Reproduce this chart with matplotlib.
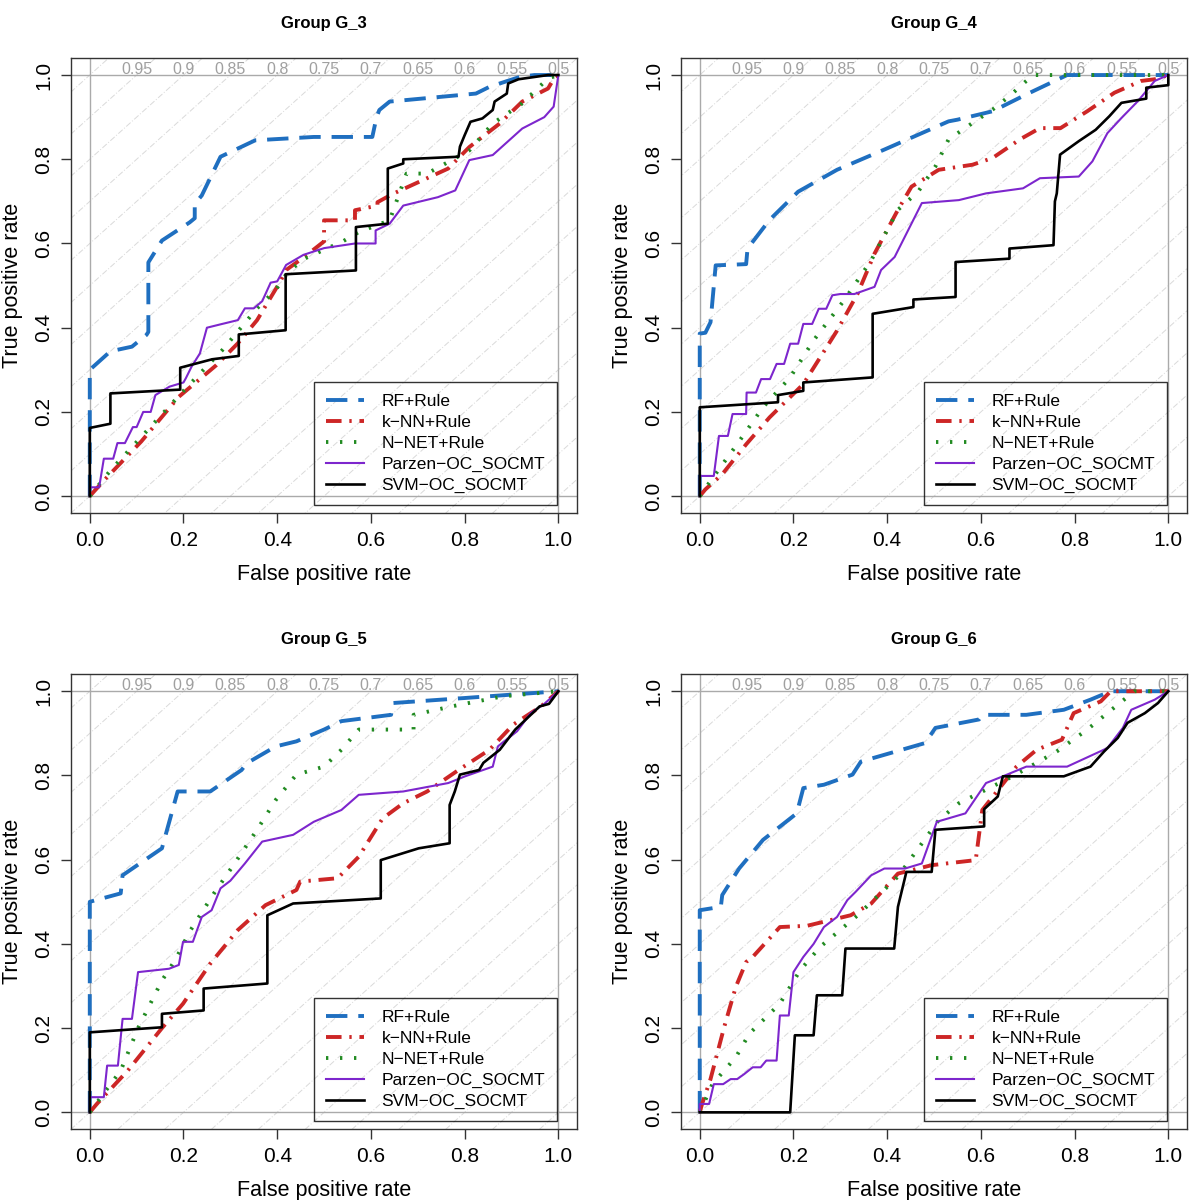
import matplotlib.pyplot as plt
import numpy as np

plt.rcParams['font.family'] = ['Liberation Sans', 'DejaVu Sans']

titles = ['Group G_3', 'Group G_4', 'Group G_5', 'Group G_6']
methods = ['RF+Rule', 'k\u2212NN+Rule', 'N\u2212NET+Rule',
           'Parzen\u2212OC_SOCMT', 'SVM\u2212OC_SOCMT']
iso_labels = [0.95, 0.9, 0.85, 0.8, 0.75, 0.7, 0.65, 0.6, 0.55, 0.5]

# (FPR, TPR) points
g3_rf = [(0, 0), (0, 0.30), (0.044, 0.344), (0.09, 0.355), (0.121, 0.383), (0.125, 0.39),
         (0.125, 0.555), (0.154, 0.607), (0.213, 0.65), (0.224, 0.66), (0.224, 0.694),
         (0.239, 0.714), (0.279, 0.806), (0.353, 0.845), (0.478, 0.853), (0.603, 0.853),
         (0.612, 0.9), (0.618, 0.917), (0.64, 0.937), (0.824, 0.956), (0.853, 0.972),
         (0.919, 0.996), (0.949, 1.0), (1, 1)]
g3_knn = [(0, 0), (0.03, 0.037), (0.11, 0.13), (0.19, 0.236), (0.27, 0.311), (0.316, 0.363),
          (0.357, 0.418), (0.404, 0.505), (0.419, 0.537), (0.46, 0.57), (0.5, 0.605),
          (0.5, 0.655), (0.566, 0.655), (0.566, 0.679), (0.614, 0.69), (0.614, 0.698),
          (0.647, 0.718), (0.765, 0.778), (0.81, 0.829), (0.875, 0.885), (0.923, 0.937),
          (0.978, 0.968), (0.993, 0.996), (1, 1)]
g3_nnet = [(0, 0), (0.044, 0.061), (0.107, 0.137), (0.2, 0.25), (0.283, 0.347), (0.357, 0.446),
           (0.397, 0.49), (0.423, 0.533), (0.46, 0.565), (0.54, 0.605), (0.574, 0.627),
           (0.64, 0.655), (0.676, 0.766), (0.72, 0.766), (0.81, 0.821), (0.86, 0.885),
           (0.897, 0.913), (0.919, 0.929), (0.978, 0.992), (1, 1)]
g3_parzen = [(0, 0), (0, 0.021), (0.02, 0.021), (0.03, 0.089), (0.05, 0.089), (0.059, 0.126),
             (0.075, 0.126), (0.092, 0.164), (0.1, 0.164), (0.114, 0.2), (0.13, 0.2),
             (0.14, 0.24), (0.17, 0.26), (0.2, 0.27), (0.205, 0.28), (0.217, 0.307),
             (0.235, 0.339), (0.25, 0.4), (0.279, 0.408), (0.316, 0.418), (0.331, 0.446),
             (0.35, 0.446), (0.368, 0.463), (0.386, 0.507), (0.4, 0.51), (0.419, 0.549),
             (0.456, 0.573), (0.5, 0.589), (0.566, 0.6), (0.61, 0.6), (0.61, 0.631),
             (0.64, 0.647), (0.669, 0.69), (0.743, 0.71), (0.78, 0.726), (0.81, 0.798),
             (0.86, 0.81), (0.89, 0.84), (0.923, 0.873), (0.97, 0.9), (0.99, 0.925), (1, 1)]
g3_svm = [(0, 0), (0, 0.162), (0.044, 0.172), (0.044, 0.244), (0.193, 0.253), (0.193, 0.305),
          (0.261, 0.325), (0.318, 0.333), (0.318, 0.384), (0.418, 0.394), (0.418, 0.527),
          (0.568, 0.536), (0.568, 0.639), (0.636, 0.647), (0.636, 0.778), (0.669, 0.79),
          (0.669, 0.80), (0.787, 0.806), (0.79, 0.83), (0.80, 0.857), (0.8125, 0.889),
          (0.838, 0.897), (0.86, 0.917), (0.864, 0.937), (0.89, 0.956), (0.893, 0.98),
          (0.915, 0.99), (0.978, 1.0), (1, 1)]

g4_rf = [(0, 0), (0, 0.386), (0.012, 0.388), (0.023, 0.413), (0.034, 0.548), (0.099, 0.551),
         (0.102, 0.588), (0.149, 0.656), (0.21, 0.723), (0.293, 0.775), (0.394, 0.823),
         (0.531, 0.89), (0.55, 0.894), (0.625, 0.914), (0.697, 0.954), (0.784, 1.0), (1, 1)]
g4_knn = [(0, 0), (0.012, 0.016), (0.048, 0.052), (0.099, 0.123), (0.149, 0.187), (0.221, 0.266),
          (0.293, 0.393), (0.337, 0.481), (0.373, 0.576), (0.423, 0.68), (0.452, 0.735),
          (0.51, 0.775), (0.582, 0.787), (0.625, 0.803), (0.683, 0.847), (0.726, 0.874),
          (0.77, 0.874), (0.827, 0.914), (0.885, 0.958), (0.942, 0.986), (0.971, 0.99), (1, 1)]
g4_nnet = [(0, 0), (0.041, 0.064), (0.077, 0.119), (0.135, 0.211), (0.193, 0.282), (0.243, 0.37),
           (0.308, 0.465), (0.366, 0.56), (0.423, 0.68), (0.466, 0.723), (0.503, 0.783),
           (0.531, 0.847), (0.582, 0.886), (0.625, 0.918), (0.661, 0.95), (0.697, 0.986),
           (0.712, 1.0), (1, 1)]
g4_parzen = [(0, 0), (0, 0.048), (0.03, 0.048), (0.041, 0.143), (0.06, 0.143), (0.07, 0.195),
             (0.099, 0.195), (0.1, 0.246), (0.12, 0.246), (0.131, 0.278), (0.15, 0.278),
             (0.164, 0.314), (0.18, 0.314), (0.193, 0.362), (0.21, 0.362), (0.221, 0.409),
             (0.24, 0.409), (0.254, 0.445), (0.27, 0.445), (0.283, 0.477), (0.3, 0.48),
             (0.33, 0.48), (0.373, 0.497), (0.387, 0.537), (0.416, 0.568), (0.445, 0.632),
             (0.474, 0.696), (0.553, 0.703), (0.611, 0.719), (0.69, 0.731), (0.726, 0.755),
             (0.809, 0.759), (0.838, 0.795), (0.87, 0.862), (0.9, 0.898), (0.935, 0.938),
             (0.971, 0.986), (1, 1)]
g4_svm = [(0, 0), (0, 0.211), (0.167, 0.223), (0.167, 0.24), (0.221, 0.25), (0.221, 0.27),
          (0.369, 0.282), (0.369, 0.433), (0.456, 0.449), (0.456, 0.467), (0.546, 0.473),
          (0.546, 0.556), (0.661, 0.564), (0.661, 0.588), (0.755, 0.596), (0.758, 0.7),
          (0.762, 0.719), (0.769, 0.811), (0.809, 0.843), (0.845, 0.87), (0.874, 0.902),
          (0.9, 0.934), (0.953, 0.944), (0.953, 0.97), (1.0, 0.976), (1, 1)]

g5_rf = [(0, 0), (0, 0.5), (0.066, 0.52), (0.07, 0.563), (0.154, 0.627), (0.1875, 0.762),
         (0.257, 0.762), (0.324, 0.813), (0.335, 0.829), (0.397, 0.869), (0.441, 0.881),
         (0.5, 0.909), (0.537, 0.929), (0.643, 0.944), (0.647, 0.972), (0.801, 0.984), (1, 1)]
g5_knn = [(0, 0), (0.015, 0.02), (0.081, 0.099), (0.154, 0.2), (0.199, 0.258), (0.257, 0.353),
          (0.316, 0.433), (0.375, 0.492), (0.441, 0.528), (0.449, 0.548), (0.529, 0.556),
          (0.574, 0.607), (0.625, 0.698), (0.669, 0.734), (0.72, 0.762), (0.787, 0.813),
          (0.853, 0.861), (0.904, 0.921), (0.963, 0.964), (1, 1)]
g5_nnet = [(0, 0), (0.029, 0.044), (0.066, 0.099), (0.103, 0.2), (0.154, 0.313), (0.184, 0.365),
           (0.213, 0.429), (0.265, 0.52), (0.309, 0.591), (0.357, 0.671), (0.397, 0.742),
           (0.441, 0.802), (0.5, 0.821), (0.537, 0.861), (0.574, 0.909), (0.691, 0.909),
           (0.691, 0.944), (0.772, 0.964), (0.882, 0.988), (1, 1)]
g5_parzen = [(0, 0), (0, 0.036), (0.03, 0.036), (0.037, 0.111), (0.06, 0.111), (0.07, 0.222),
             (0.09, 0.222), (0.103, 0.333), (0.169, 0.341), (0.19, 0.35), (0.199, 0.405),
             (0.22, 0.405), (0.239, 0.464), (0.26, 0.48), (0.279, 0.532), (0.3, 0.55),
             (0.331, 0.591), (0.368, 0.643), (0.434, 0.659), (0.478, 0.69), (0.537, 0.718),
             (0.574, 0.754), (0.669, 0.762), (0.765, 0.782), (0.801, 0.798), (0.86, 0.821),
             (0.871, 0.869), (0.912, 0.905), (0.941, 0.948), (0.97, 0.97), (1, 1)]
g5_svm = [(0, 0), (0, 0.19), (0.154, 0.202), (0.154, 0.234), (0.243, 0.242), (0.243, 0.294),
          (0.379, 0.306), (0.379, 0.468), (0.434, 0.496), (0.621, 0.508), (0.621, 0.599),
          (0.702, 0.627), (0.768, 0.639), (0.768, 0.73), (0.779, 0.762), (0.79, 0.802),
          (0.831, 0.813), (0.84, 0.83), (0.875, 0.861), (0.908, 0.909), (0.96, 0.964),
          (0.98, 0.97), (1, 1)]

g6_rf = [(0, 0), (0, 0.48), (0.045, 0.488), (0.048, 0.516), (0.084, 0.579), (0.135, 0.647),
         (0.207, 0.71), (0.221, 0.77), (0.265, 0.778), (0.326, 0.802), (0.344, 0.833),
         (0.481, 0.877), (0.503, 0.913), (0.596, 0.933), (0.603, 0.944), (0.697, 0.944),
         (0.777, 0.956), (0.834, 0.98), (0.877, 1.0), (1, 1)]
g6_knn = [(0, 0), (0.005, 0.02), (0.023, 0.079), (0.052, 0.202), (0.077, 0.298), (0.099, 0.357),
          (0.113, 0.369), (0.171, 0.44), (0.229, 0.443), (0.322, 0.468), (0.366, 0.496),
          (0.423, 0.567), (0.495, 0.587), (0.589, 0.599), (0.603, 0.718), (0.676, 0.821),
          (0.719, 0.861), (0.773, 0.885), (0.798, 0.948), (0.856, 0.976), (0.877, 1), (1, 1)]
g6_nnet = [(0, 0), (0.027, 0.067), (0.077, 0.131), (0.106, 0.187), (0.171, 0.258), (0.214, 0.337),
           (0.257, 0.393), (0.337, 0.468), (0.423, 0.56), (0.51, 0.694), (0.553, 0.734),
           (0.668, 0.798), (0.762, 0.857), (0.827, 0.909), (0.892, 0.968), (0.928, 1), (1, 1)]
g6_parzen = [(0, 0), (0, 0.02), (0.02, 0.02), (0.03, 0.067), (0.05, 0.067), (0.066, 0.079),
             (0.08, 0.079), (0.095, 0.091), (0.113, 0.107), (0.13, 0.107), (0.142, 0.123),
             (0.164, 0.123), (0.171, 0.23), (0.19, 0.23), (0.2, 0.333), (0.221, 0.369),
             (0.243, 0.4), (0.265, 0.44), (0.293, 0.464), (0.315, 0.504), (0.333, 0.524),
             (0.366, 0.563), (0.394, 0.579), (0.438, 0.579), (0.474, 0.591), (0.506, 0.69),
             (0.567, 0.71), (0.611, 0.782), (0.647, 0.798), (0.697, 0.821), (0.784, 0.821),
             (0.87, 0.865), (0.903, 0.913), (0.921, 0.956), (0.971, 0.98), (1, 1)]
g6_svm = [(0, 0), (0.193, 0), (0.203, 0.183), (0.243, 0.183), (0.25, 0.278), (0.304, 0.278),
          (0.311, 0.389), (0.415, 0.389), (0.423, 0.488), (0.441, 0.571), (0.495, 0.571),
          (0.503, 0.671), (0.607, 0.679), (0.607, 0.72), (0.636, 0.75), (0.647, 0.798),
          (0.777, 0.798), (0.834, 0.821), (0.863, 0.857), (0.892, 0.889), (0.913, 0.925),
          (0.95, 0.948), (0.978, 0.972), (1, 1)]

groups = [[g3_rf, g3_knn, g3_nnet, g3_parzen, g3_svm],
          [g4_rf, g4_knn, g4_nnet, g4_parzen, g4_svm],
          [g5_rf, g5_knn, g5_nnet, g5_parzen, g5_svm],
          [g6_rf, g6_knn, g6_nnet, g6_parzen, g6_svm]]

colors = ['#1f6fc0', '#cd2626', '#228b22', '#7d26cd', 'black']
widths = [2.8, 2.8, 2.8, 1.5, 1.9]
styles = [(0, (5.5, 2.8)), (0, (4, 2, 0.6, 2)), (0, (0.6, 3.0)), '-', '-']

fig = plt.figure(figsize=(12, 12), dpi=100)
positions = [[0.0592, 0.5725, 0.4217, 0.379], [0.5675, 0.5725, 0.4217, 0.379],
             [0.0592, 0.059, 0.4217, 0.379], [0.5675, 0.059, 0.4217, 0.379]]

for k in range(4):
    ax = fig.add_axes(positions[k])
    ax.set_xlim(-0.04, 1.04)
    ax.set_ylim(-0.04, 1.04)

    # iso-accuracy lines
    for c in np.arange(-1.0, 1.01, 0.1):
        ax.plot([-1, 2], [-1 + c, 2 + c], color='#dadada', lw=0.7,
                linestyle=(0, (6, 2, 1, 2)), zorder=1)
    for v in iso_labels:
        ax.text(2 * (1 - v), 0.995, f'{v:g}', color='#a0a0a0', fontsize=11.5,
                ha='center', va='bottom', zorder=2)
    for p in [0, 1]:
        ax.axhline(p, color='#aaaaaa', lw=1, zorder=1)
        ax.axvline(p, color='#aaaaaa', lw=1, zorder=1)

    for j, pts in enumerate(groups[k]):
        xs = [p[0] for p in pts]
        ys = [p[1] for p in pts]
        ax.plot(xs, ys, color=colors[j], lw=widths[j], linestyle=styles[j],
                label=methods[j], zorder=3)

    leg = ax.legend(loc='lower right', bbox_to_anchor=(0.998, -0.021),
                    bbox_transform=ax.transData, fontsize=12.5, frameon=True,
                    fancybox=False, edgecolor='black', facecolor='none',
                    handlelength=2.2, labelspacing=0.33, borderpad=0.7,
                    handletextpad=1.0, borderaxespad=0)
    leg.get_frame().set_linewidth(1.0)

    ax.set_xticks([0, 0.2, 0.4, 0.6, 0.8, 1.0])
    ax.set_yticks([0, 0.2, 0.4, 0.6, 0.8, 1.0])
    ax.set_xticklabels(['0.0', '0.2', '0.4', '0.6', '0.8', '1.0'])
    ax.set_yticklabels(['0.0', '0.2', '0.4', '0.6', '0.8', '1.0'],
                       rotation=90, va='center')
    ax.tick_params(direction='out', length=7, width=1, labelsize=15, pad=6,
                   color='#333333')
    for s in ax.spines.values():
        s.set_color('#333333')
        s.set_linewidth(1.0)

    ax.set_xlabel('False positive rate', fontsize=15.5, labelpad=10)
    ax.set_ylabel('True positive rate', fontsize=15.5, labelpad=8)
    ax.set_title(titles[k], fontsize=12, fontweight='bold', pad=22)

plt.savefig('out.png', dpi=100)
